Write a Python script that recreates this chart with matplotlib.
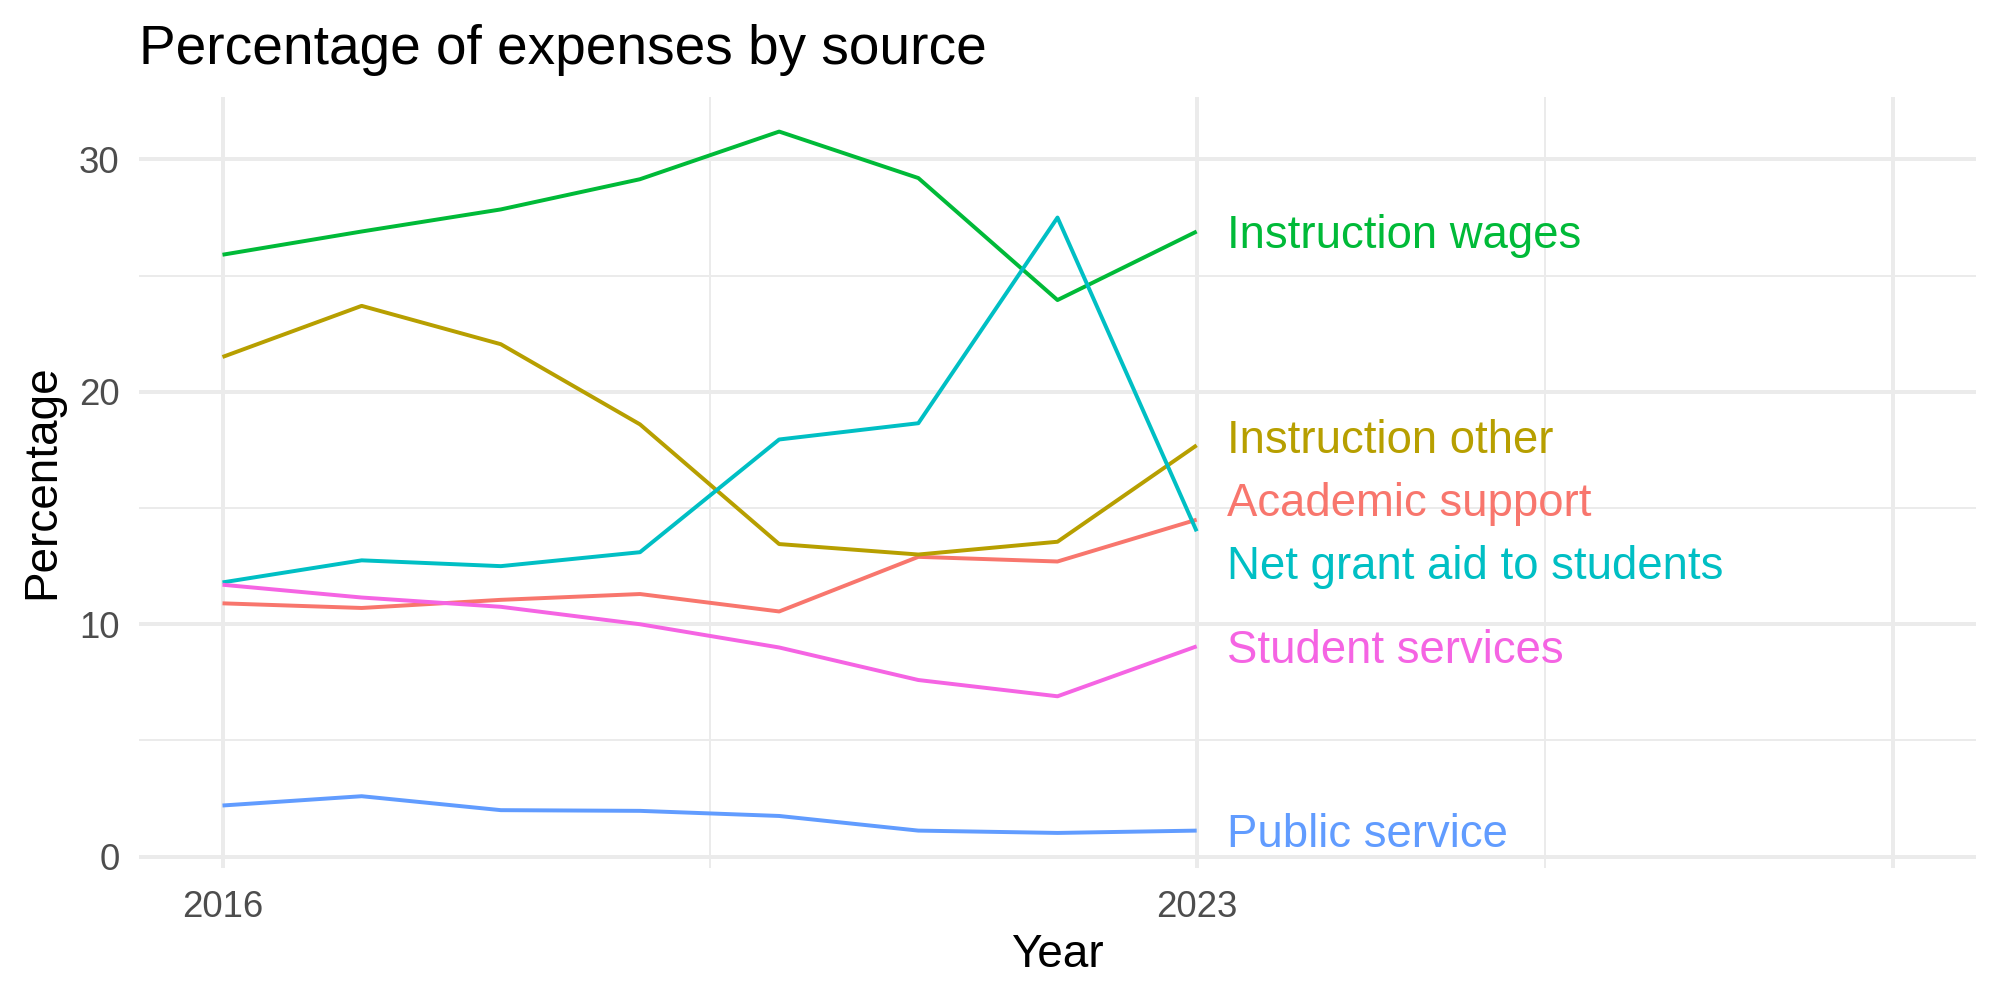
import matplotlib
matplotlib.use("Agg")
import matplotlib.pyplot as plt

plt.rcParams['font.family'] = ['Liberation Sans', 'DejaVu Sans']

years = [2016, 2017, 2018, 2019, 2020, 2021, 2022, 2023]

# series, alphabetical like ggplot's legend order
sources = ['Academic support', 'Instruction other', 'Instruction wages',
           'Net grant aid to students', 'Public service', 'Student services']
academic_support = [10.9, 10.7, 11.05, 11.3, 10.55, 12.9, 12.7, 14.5]
instruction_other = [21.5, 23.7, 22.05, 18.6, 13.45, 13.0, 13.55, 17.7]
instruction_wages = [25.9, 26.9, 27.85, 29.15, 31.2, 29.2, 23.95, 26.9]
net_grant_aid = [11.8, 12.75, 12.5, 13.1, 17.95, 18.65, 27.5, 14.0]
public_service = [2.2, 2.6, 2.0, 1.97, 1.75, 1.12, 1.02, 1.12]
student_services = [11.7, 11.15, 10.75, 10.0, 9.0, 7.6, 6.9, 9.05]

values = [academic_support, instruction_other, instruction_wages,
          net_grant_aid, public_service, student_services]
colors = ['#F8766D', '#B79F00', '#00BA38', '#00BFC4', '#619CFF', '#F564E3']

# baseline of the end labels (they were nudged apart)
label_y = [14.66, 17.38, 26.19, 11.95, 0.41, 8.33]
label_x = 2023.22

fig = plt.figure(figsize=(10, 5), dpi=200)
ax = fig.add_axes([0.0695, 0.132, 0.9185, 0.7715])

for name, vals, col in zip(sources, values, colors):
    ax.plot(years, vals, color=col, lw=1.42, solid_joinstyle='round',
            solid_capstyle='butt', zorder=3)

for name, ly, col in zip(sources, label_y, colors):
    ax.text(label_x, ly, name, color=col, fontsize=16.4, ha='left',
            va='baseline', zorder=4)

# limits like ggplot (5% expansion); x data range runs to 2028
allv = [v for s in values for v in s]
lo, hi = min(allv), max(allv)
pad = (hi - lo) * 0.05
ax.set_ylim(lo - pad, hi + pad)
ax.set_xlim(2016 - 0.6, 2028 + 0.6)

ax.set_xticks([2016, 2023, 2028])
ax.set_xticklabels(['2016', '2023', ''])
ax.set_xticks([2019.5, 2025.5], minor=True)
ax.set_yticks([0, 10, 20, 30])
ax.set_yticks([5, 15, 25], minor=True)

ax.grid(which='major', color='#EBEBEB', lw=1.42, zorder=0)
ax.grid(which='minor', color='#EBEBEB', lw=0.71, zorder=0)
ax.set_axisbelow(True)
for s in ax.spines.values():
    s.set_visible(False)
ax.tick_params(which='both', length=0)
ax.tick_params(axis='x', labelsize=13.2, labelcolor='#4D4D4D', pad=8)
ax.tick_params(axis='y', labelsize=13.2, labelcolor='#4D4D4D', pad=7)

fig.text(0.0695, 1 - 0.064, 'Percentage of expenses by source', fontsize=19.8,
         ha='left', va='baseline', color='black')
fig.text(0.5285, 1 - 0.967, 'Year', fontsize=16.5, ha='center',
         va='baseline', color='black')
fig.text(0.021, 0.518, 'Percentage', fontsize=16.5, rotation=90,
         ha='center', va='center', color='black')

fig.savefig('out.png', dpi=200, facecolor='white')
